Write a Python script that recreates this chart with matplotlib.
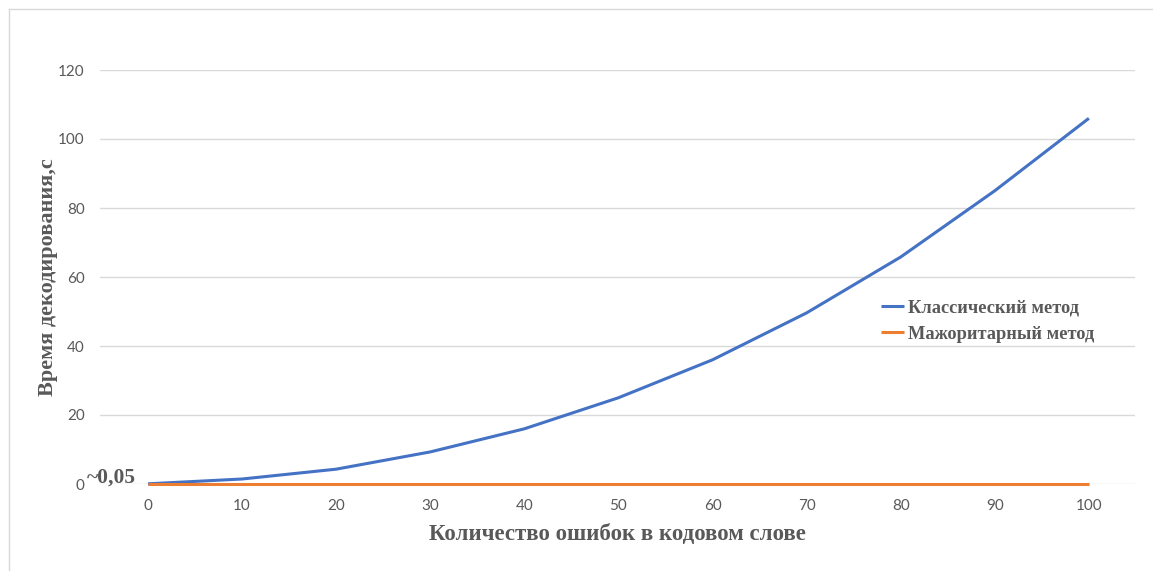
import matplotlib
matplotlib.use("Agg")
import matplotlib.pyplot as plt
from matplotlib.lines import Line2D

# data
errors = [0, 10, 20, 30, 40, 50, 60, 70, 80, 90, 100]
classic = [0.05, 1.45, 4.3, 9.3, 16, 25, 36, 49.6, 65.8, 85, 106]
majority = [0.05, 0.05, 0.05, 0.05, 0.05, 0.05, 0.05, 0.05, 0.05, 0.05, 0.05]
yticks = [0, 20, 40, 60, 80, 100, 120]

blue = "#4472C4"
orange = "#ED7D31"
grey_txt = "#595959"
serif = ["Liberation Serif", "DejaVu Serif"]

fig = plt.figure(figsize=(11.53, 5.71), dpi=100)
ax = fig.add_axes([100/1153, 1-484/571, 1035/1153, 414/571])

ax.plot(errors, classic, color=blue, lw=2.2, label="Классический метод",
        solid_capstyle="butt", clip_on=False, zorder=3)
ax.plot(errors, majority, color=orange, lw=2.2, label="Мажоритарный метод",
        solid_capstyle="butt", clip_on=False, zorder=4)

ax.set_xlim(-5.1, 104.9)
ax.set_ylim(0, 120)
ax.set_xticks(errors)
ax.set_yticks(yticks)
ax.yaxis.grid(True, color="#D9D9D9", lw=1)
ax.set_axisbelow(True)
for s in ax.spines.values():
    s.set_visible(False)
ax.tick_params(length=0, labelsize=11, labelcolor=grey_txt, pad=11)
for lb in ax.get_xticklabels() + ax.get_yticklabels():
    lb.set_family(["Lato", "DejaVu Sans"])

ax.set_xlabel("Количество ошибок в кодовом слове", family=serif, fontsize=16.5,
              fontweight="bold", color=grey_txt, labelpad=8)
ax.set_ylabel("Время декодирования,с", family=serif, fontsize=16,
              fontweight="bold", color=grey_txt)
ax.yaxis.set_label_coords(-0.041, 0.5)

ax.text(-6.5, -0.9, "~0,05", family=serif, fontsize=15.5, fontweight="bold",
        color=grey_txt, ha="left", va="bottom")

leg = ax.legend(loc="upper left", bbox_to_anchor=(764/1035, (484-283)/414),
                frameon=False, handlelength=1.3, handletextpad=0.2,
                labelspacing=0.5, prop={"family": serif, "weight": "bold", "size": 13.2})
for t in leg.get_texts():
    t.set_color(grey_txt)

# outer chart frame (only top and left edges visible in the crop)
fig.add_artist(Line2D([9/1153, 1], [1-9/571, 1-9/571], color="#D9D9D9", lw=1))
fig.add_artist(Line2D([9/1153, 9/1153], [0, 1-9/571], color="#D9D9D9", lw=1))

fig.savefig("out.png", dpi=100, facecolor="white")
